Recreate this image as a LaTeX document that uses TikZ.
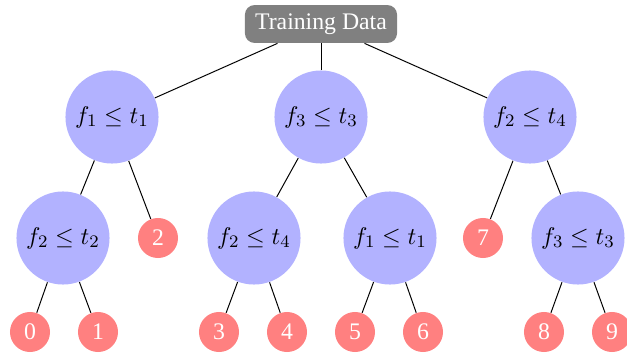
\documentclass[tikz,border=0pt]{standalone}
\usepackage[no-math]{fontspec}
\setmainfont{Liberation Serif}
\begin{document}
\begin{tikzpicture}[x=0.4545pt,y=-0.4545pt,
  rootbox/.style={draw=none,fill=black!50,text=white,rounded corners=4.3pt,text height=7.6pt,text depth=2.2pt,inner xsep=4.6pt,inner ysep=3.7pt,font=\fontsize{10.8}{12}\selectfont},
  split/.style={circle,fill=blue!30,minimum size=42.3pt,inner sep=0pt,font=\fontsize{11}{13}\selectfont},
  leaf/.style={circle,fill=red!50,text=white,minimum size=18.2pt,inner sep=0pt,font=\fontsize{10.8}{12}\selectfont},
  edge/.style={draw=black,line width=0.45pt}]
\useasboundingbox (0,0) rectangle (627,354);
\node[rootbox] (root) at (321,24) {Training Data};
\node[split] (a) at (112,117) {$f_1 \leq t_1$};
\node[split] (b) at (321,117) {$f_3 \leq t_3$};
\node[split] (c) at (530,117) {$f_2 \leq t_4$};
\node[split] (a1) at (63,238) {$f_2 \leq t_2$};
\node[leaf] (l2) at (158,238) {2};
\node[split] (b1) at (254,238) {$f_2 \leq t_4$};
\node[split] (b2) at (390,238) {$f_1 \leq t_1$};
\node[leaf] (l7) at (483,238) {7};
\node[split] (c2) at (578,238) {$f_3 \leq t_3$};
\node[leaf] (l0) at (30,332) {0};
\node[leaf] (l1) at (98,332) {1};
\node[leaf] (l3) at (219,332) {3};
\node[leaf] (l4) at (287,332) {4};
\node[leaf] (l5) at (355,332) {5};
\node[leaf] (l6) at (423,332) {6};
\node[leaf] (l8) at (544,332) {8};
\node[leaf] (l9) at (612,332) {9};
\draw[edge] (root) -- (a);
\draw[edge] (root) -- (b);
\draw[edge] (root) -- (c);
\draw[edge] (a) -- (a1);
\draw[edge] (a) -- (l2);
\draw[edge] (b) -- (b1);
\draw[edge] (b) -- (b2);
\draw[edge] (c) -- (l7);
\draw[edge] (c) -- (c2);
\draw[edge] (a1) -- (l0);
\draw[edge] (a1) -- (l1);
\draw[edge] (b1) -- (l3);
\draw[edge] (b1) -- (l4);
\draw[edge] (b2) -- (l5);
\draw[edge] (b2) -- (l6);
\draw[edge] (c2) -- (l8);
\draw[edge] (c2) -- (l9);
\end{tikzpicture}
\end{document}
